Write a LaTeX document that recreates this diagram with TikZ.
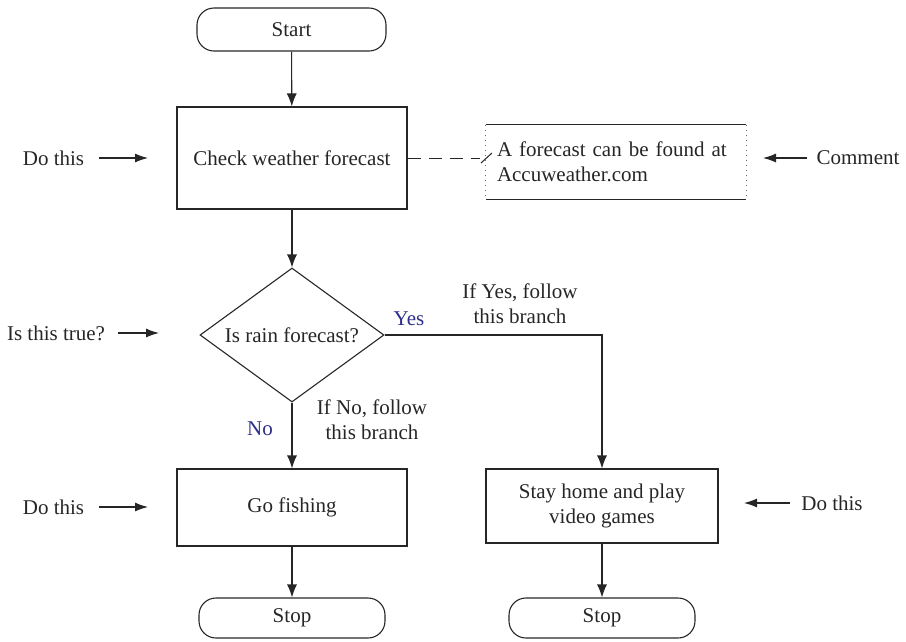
\documentclass[tikz,border=0pt]{standalone}
\usepackage{fontspec}
\setmainfont{Liberation Serif}
\usetikzlibrary{shapes,arrows.meta,positioning}
\definecolor{ink}{rgb}{0.15,0.15,0.15}
\definecolor{navy}{rgb}{0.18,0.18,0.55}

\begin{document}
\begin{tikzpicture}[x=1pt,y=-1pt,
    every node/.style={font=\fontsize{21}{25}\selectfont, text=ink},
    box/.style={draw=ink, line width=1.1pt, rectangle, inner sep=0pt},
    terminal/.style={box, rounded corners=17pt, minimum width=186pt, minimum height=40pt},
    decision/.style={draw=ink, line width=1.1pt, diamond, aspect=1.4, inner sep=0pt,
        minimum width=184pt, minimum height=134pt},
    flow/.style={draw=ink, line width=1.1pt, -{Latex[length=13pt,width=10pt]}},
    pointer/.style={draw=ink, line width=1.1pt, -{Latex[length=13pt,width=9pt]}},
    tag/.style={inner sep=0pt},
    answer/.style={text=navy}]
    \useasboundingbox (0,0) rectangle (906,641);

    % main chart
    \node[terminal, minimum width=189pt, minimum height=43pt] (start) at (291.5,29.5) {Start};
    \node[box, minimum width=230pt, minimum height=102pt] (check) at (292,158) {Check weather forecast};
    \node[decision] (rain) at (292,335) {Is rain forecast?};
    \node[box, minimum width=230pt, minimum height=77pt] (fish) at (292,507.5) {Go fishing};
    \node[box, minimum width=232pt, minimum height=74pt, align=center] (home) at (602,506) {Stay home and play\\video games};
    \node[terminal] (stopA) at (292,618) {Stop};
    \node[terminal] (stopB) at (602,618) {Stop};

    \draw[flow] (start) -- (check);
    \draw[flow] (check) -- (rain);
    \draw[flow] (rain) -- (fish);
    \draw[flow] (rain.east) -| (home);
    \draw[flow] (fish) -- (stopA);
    \draw[flow] (home) -- (stopB);

    % branch labels
    \node[answer] (yes) at (409,319) {Yes};
    \node[align=center] (ifyes) at (520,304) {If Yes, follow\\this branch};
    \node[answer] (no) at (260,429) {No};
    \node[align=center] (ifno) at (372,420) {If No, follow\\this branch};

    % comment box: solid top and bottom, dotted sides
    \node[align=left, text width=238pt, inner sep=11pt, minimum height=74pt] (note) at (616,162)
        {A forecast can be found at\\Accuweather.com};
    \draw[ink, line width=1.2pt] (note.north west) -- (note.north east);
    \draw[ink, line width=1.2pt] (note.south west) -- (note.south east);
    \draw[ink!70, line width=0.9pt, dash pattern=on 1pt off 4pt] (note.north west) -- (note.south west);
    \draw[ink!70, line width=0.9pt, dash pattern=on 1pt off 4pt] (note.north east) -- (note.south east);
    \coordinate (noteend) at (480,158);
    \draw[ink, line width=1pt, dash pattern=on 13pt off 8pt] (check.east) -- (noteend);
    \draw[ink, line width=1pt] (noteend) ++(1,5) -- ++(11,-10);

    % side notes
    \node[tag] (doA) at (53.5,158) {Do this};
    \coordinate (doAtip) at (148,158);
    \draw[pointer, shorten <=15pt] (doA.east) -- (doAtip);
    \node[tag] (ask) at (56,333) {Is this true?};
    \coordinate (asktip) at (159,333);
    \draw[pointer, shorten <=13pt] (ask.east) -- (asktip);
    \node[tag] (doC) at (53.5,507) {Do this};
    \coordinate (doCtip) at (148,507);
    \draw[pointer, shorten <=15pt] (doC.east) -- (doCtip);
    \node[tag] (doB) at (832,503) {Do this};
    \coordinate (doBtip) at (744,503);
    \draw[pointer, shorten <=11pt] (doB.west) -- (doBtip);
    \node[tag] (remark) at (858,158) {Comment};
    \coordinate (remarktip) at (763,158);
    \draw[pointer, shorten <=9pt] (remark.west) -- (remarktip);
\end{tikzpicture}
\end{document}
